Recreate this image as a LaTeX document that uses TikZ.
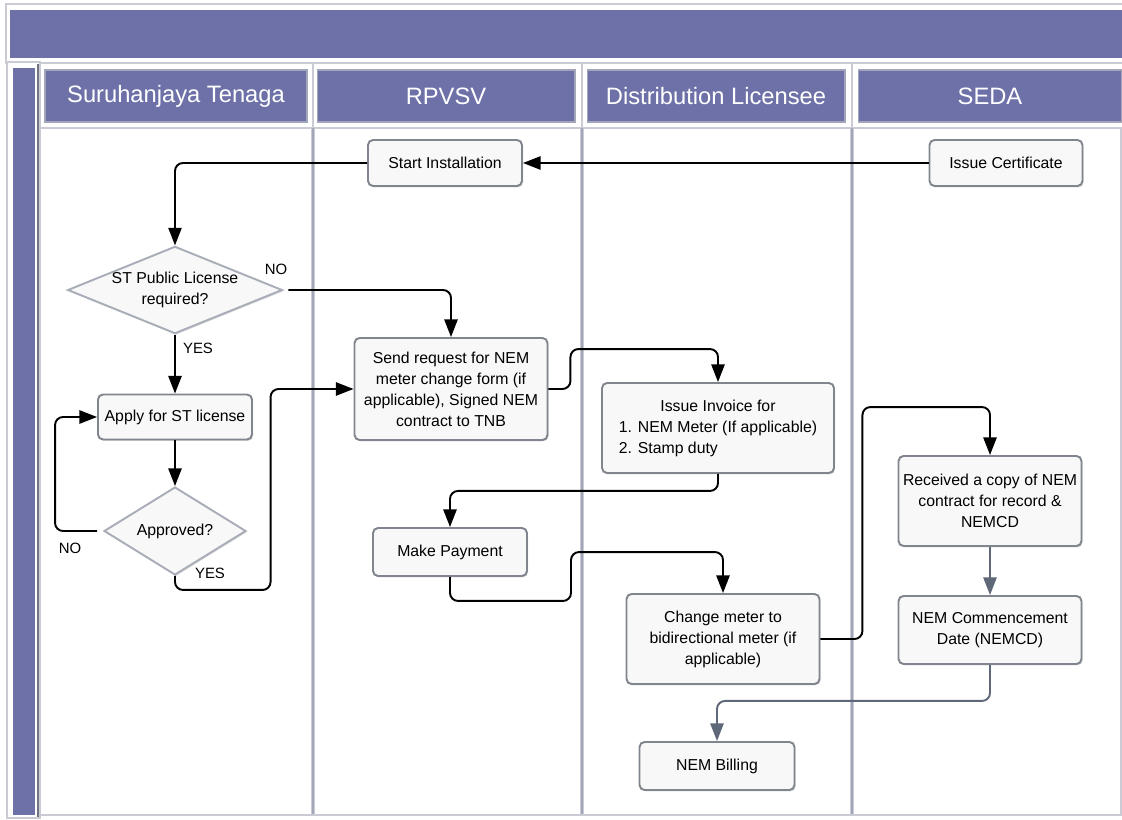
\documentclass[tikz,border=0pt]{standalone}
\usepackage{fontspec}
\setmainfont{Liberation Sans}
\usetikzlibrary{arrows.meta,shapes.geometric,shadows,calc}
\definecolor{lanepurple}{HTML}{6D71A8}
\definecolor{frameg}{HTML}{CACBD4}
\definecolor{divg}{HTML}{A3A6B8}
\definecolor{boxborder}{HTML}{80858E}
\definecolor{diaborder}{HTML}{A9ADB8}
\definecolor{boxfill}{HTML}{F8F8F8}
\definecolor{greyarrow}{HTML}{5E6878}
\begin{document}
\begin{tikzpicture}[x=0.02cm,y=-0.02cm,
  box/.style={draw=boxborder, line width=1.1pt, fill=boxfill, rounded corners=0.1cm,
    align=center, font=\fontsize{9}{12}\selectfont, inner sep=2pt,
    drop shadow={shadow xshift=0.6pt,shadow yshift=-0.8pt,opacity=0.3}},
  dia/.style={shape=diamond, draw=diaborder, line width=1.1pt, fill=boxfill,
    align=center, font=\fontsize{9}{12}\selectfont, inner sep=0pt,
    drop shadow={shadow xshift=0.6pt,shadow yshift=-0.8pt,opacity=0.25}},
  arr/.style={draw=black, line width=1.1pt, rounded corners=0.16cm,
    -{Triangle[length=10pt,width=7.5pt]}},
  garr/.style={arr, draw=greyarrow},
  lbl/.style={font=\fontsize{8.5}{10}\selectfont, inner sep=0pt},
  hdr/.style={fill=lanepurple, draw=divg, line width=0.6pt, text=white,
    font=\fontsize{13.5}{16}\selectfont, minimum height=1.04cm, inner sep=0pt},
  hframe/.style={draw=frameg, line width=1.2pt, fill=white}
]
\useasboundingbox (0,0) rectangle (1122,820);
% top banner
\draw[frameg, line width=1.5pt] (6,4) rectangle (1126,63);
\fill[lanepurple] (10,10) rectangle (1122,58);
% left strip
\draw[hframe] (7,62) rectangle (40,818);
\fill[lanepurple] (13,68) rectangle (35,815);
\draw[divg!70!black, line width=0.8pt] (38,64) -- (38,817);
% header frames
\draw[hframe] (40,63) rectangle (313,128);
\draw[hframe] (313,63) rectangle (582,128);
\draw[hframe] (582,63) rectangle (852,128);
\draw[hframe] (852,63) rectangle (1126,128);
% lane headers
\node[hdr, minimum width=5.24cm] (hST) at (176,96) {Suruhanjaya Tenaga};
\node[hdr, minimum width=5.16cm] (hRP) at (446,96) {RPVSV};
\node[hdr, minimum width=5.16cm] (hDL) at (716,96) {Distribution Licensee};
\node[hdr, minimum width=5.28cm] (hSE) at (990,96) {SEDA};
% lane dividers
\foreach \xx in {313,582,852}{
  \draw[frameg, line width=2.2pt] (\xx,128) -- (\xx,815);
  \draw[divg, line width=0.9pt] (\xx,128) -- (\xx,815);
}
\draw[frameg, line width=1.2pt] (1121,128) -- (1121,815);
\draw[frameg, line width=1.2pt] (40,815) -- (1122,815);

% nodes
\node[box, minimum width=3.08cm, minimum height=0.92cm] (start) at (445,163) {Start Installation};
\node[box, minimum width=3.06cm, minimum height=0.92cm] (cert) at (1006,163) {Issue Certificate};
\node[dia, minimum width=4.24cm, minimum height=1.72cm, aspect=2.46] (stpub) at (175,290) {ST Public License\\required?};
\node[box, minimum width=3.08cm, minimum height=0.9cm] (apply) at (175,417) {Apply for ST license};
\node[dia, minimum width=2.84cm, minimum height=1.76cm, aspect=1.61] (appr) at (175,531) {Approved?};
\node[box, minimum width=3.86cm, minimum height=2.04cm] (send) at (451,389) {Send request for NEM\\meter change form (if\\applicable), Signed NEM\\contract to TNB};
\node[box, minimum width=4.64cm, minimum height=1.8cm] (inv) at (718,428) {\begin{tabular}{@{}l@{}}\multicolumn{1}{c}{Issue Invoice for}\\1. NEM Meter (If applicable)\\2. Stamp duty\end{tabular}};
\node[box, minimum width=3.08cm, minimum height=0.96cm] (pay) at (450,552) {Make Payment};
\node[box, minimum width=3.86cm, minimum height=1.8cm] (chg) at (723,639) {Change meter to\\bidirectional meter (if\\applicable)};
\node[box, minimum width=3.66cm, minimum height=1.8cm] (rec) at (990,501) {Received a copy of NEM\\contract for record \&\\NEMCD};
\node[box, minimum width=3.66cm, minimum height=1.36cm] (nemcd) at (990,630) {NEM Commencement\\Date (NEMCD)};
\node[box, minimum width=3.1cm, minimum height=0.96cm] (bill) at (717,766) {NEM Billing};

% connectors
\draw[arr] (cert.west) -- (start.east);
\draw[arr] (start.west) -| (stpub.north);
\draw[arr] ($(stpub.east)+(5,0)$) -| (send.north);
\draw[arr] (stpub.south) -- (apply.north);
\draw[arr] (apply.south) -- (appr.north);
\draw[arr] ($(appr.west)+(-6,0)$) -- ++(-42,0) |- (apply.west);
\draw[arr] (appr.south) -- ++(0,14) -| ($(send.west)+(-83,0)$) -- (send.west);
\draw[arr] (send.east) -- ++(22,0) |- ($(inv.north)+(0,-33)$) -- (inv.north);
\draw[arr] (inv.south) -- ++(0,17) -| (pay.north);
\draw[arr] (pay.south) -- ++(0,24) -| ($(chg.north)+(-152,-41)$) -| (chg.north);
\draw[arr] (chg.east) -- ++(42,0) |- ($(rec.north)+(0,-48)$) -- (rec.north);
\draw[garr] (rec.south) -- (nemcd.north);
\draw[garr] (nemcd.south) -- ++(0,36) -| (bill.north);

% labels
\node[lbl] (lno1) at (276,269) {NO};
\node[lbl] (lyes1) at (198,348) {YES};
\node[lbl] (lno2) at (70,548) {NO};
\node[lbl] (lyes2) at (210,573) {YES};
\end{tikzpicture}
\end{document}
